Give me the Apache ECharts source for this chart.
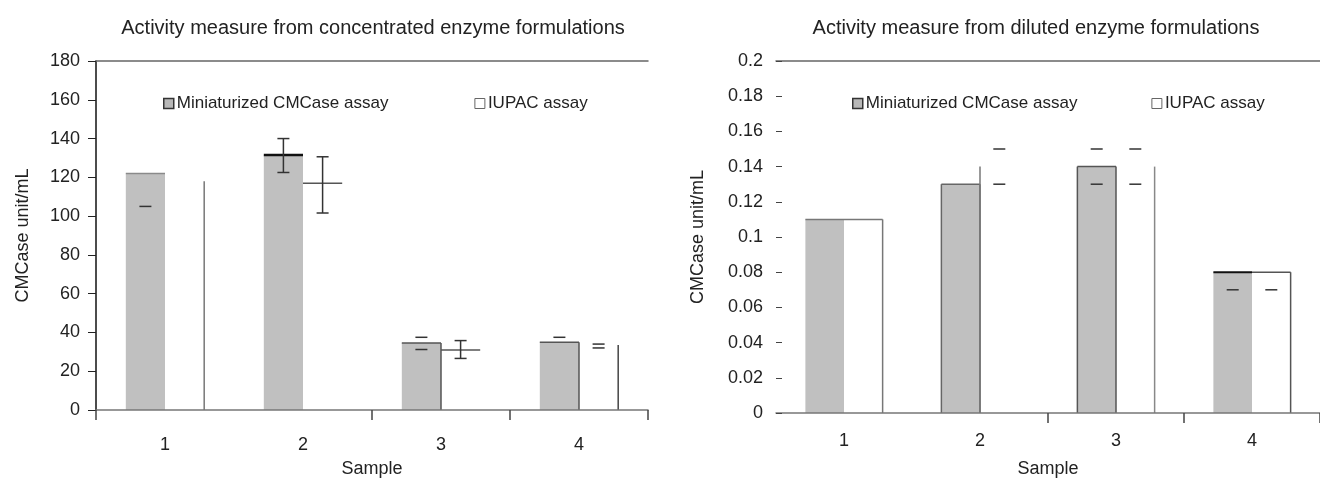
<!DOCTYPE html>
<html>
<head>
    <meta charset="utf-8">
    <title>CMCase activity</title>
    <script src="https://cdn.jsdelivr.net/npm/echarts@6/dist/echarts.min.js"></script>
    <style>html, body { margin: 0; background: #fff; }</style>
</head>
<body>
    <div id="main" style="width:1320px;height:483px;"></div>
    <script type="text/javascript">
        // sample numbers
        var samples = ['1', '2', '3', '4'];

        // concentrated enzyme formulations (left)
        var concMini = [122, 131.5, 34.5, 35];
        var concIupac = [118, 117, 31, 33.5];
        // error bar ends as far as they can be seen (null = not visible)
        var concMiniLow = [105, 122.5, 31.2, null];
        var concMiniHigh = [null, 140, 37.5, 37.5];
        var concIupacLow = [null, 101.6, 26.6, 32];
        var concIupacHigh = [null, 130.6, 35.8, 34];

        // diluted enzyme formulations (right)
        var dilMini = [0.11, 0.13, 0.14, 0.08];
        var dilIupac = [0.11, 0.14, 0.14, 0.08];
        var dilMiniLow = [null, null, 0.13, 0.07];
        var dilMiniHigh = [null, null, 0.15, null];
        var dilIupacLow = [null, 0.13, 0.13, 0.07];
        var dilIupacHigh = [null, 0.15, 0.15, null];

        var FONT = "'Liberation Sans', Arial, sans-serif";
        var TXT = '#222';
        var BAR_FRAC = 0.284;
        var GRAY = '#c0c0c0';

        // which bar outlines / error stems survive in the printed figure
        var look = {
            concMini:  { side: -1, edges: ['t', 't', 'tr', 'tr'], color: ['#8a8a8a', '#111', '#555', '#555'], width: [1.5, 2.5, 1.5, 1.5], stem: [0, 1, 0, 0] },
            concIupac: { side: 1, edges: ['r', 't', 't', 'r'], color: ['#777', '#555', '#555', '#444'], width: [1.5, 1.5, 1.5, 1.5], stem: [0, 1, 1, 0] },
            dilMini:   { side: -1, edges: ['t', 'ltr', 'ltr', 't'], color: ['#777', '#666', '#555', '#111'], width: [1.5, 1.5, 1.5, 2], stem: [0, 0, 0, 0] },
            dilIupac:  { side: 1, edges: ['tr', 'l', 'r', 'tr'], color: ['#777', '#777', '#888', '#555'], width: [1.5, 1.5, 1.5, 1.5], stem: [0, 0, 0, 0] }
        };

        function outline(key, vals, lows, highs) {
            var lk = look[key];
            return function (params, api) {
                var i = params.dataIndex;
                var top = api.coord([i, vals[i]]);
                var base = api.coord([i, 0]);
                var band = api.size([1, 0])[0];
                var w = band * BAR_FRAC;
                var x0 = lk.side < 0 ? top[0] - w : top[0];
                var x1 = x0 + w;
                var xm = (x0 + x1) / 2;
                var st = { stroke: lk.color[i], lineWidth: lk.width[i] };
                var kids = [];
                var e = lk.edges[i];
                if (e.indexOf('t') >= 0) kids.push({ type: 'line', shape: { x1: x0, y1: top[1], x2: x1, y2: top[1] }, style: st });
                if (e.indexOf('l') >= 0) kids.push({ type: 'line', shape: { x1: x0, y1: top[1], x2: x0, y2: base[1] }, style: st });
                if (e.indexOf('r') >= 0) kids.push({ type: 'line', shape: { x1: x1, y1: top[1], x2: x1, y2: base[1] }, style: st });
                var es = { stroke: '#333', lineWidth: 1.5 };
                var cap = 6;
                var yl = lows[i] == null ? null : api.coord([i, lows[i]])[1];
                var yh = highs[i] == null ? null : api.coord([i, highs[i]])[1];
                if (yl != null) kids.push({ type: 'line', shape: { x1: xm - cap, y1: yl, x2: xm + cap, y2: yl }, style: es });
                if (yh != null) kids.push({ type: 'line', shape: { x1: xm - cap, y1: yh, x2: xm + cap, y2: yh }, style: es });
                if (lk.stem[i] && yl != null && yh != null) kids.push({ type: 'line', shape: { x1: xm, y1: yl, x2: xm, y2: yh }, style: es });
                return { type: 'group', children: kids };
            };
        }

        function legendFor(left, gap) {
            return {
                left: left, top: 90, itemWidth: 10, itemHeight: 10, itemGap: gap, icon: 'rect',
                selectedMode: false,
                textStyle: { fontSize: 17, color: TXT, fontFamily: FONT, padding: [0, 0, 0, -2] },
                data: [
                    { name: 'Miniaturized CMCase assay', itemStyle: { color: '#b8b8b8', borderColor: '#333', borderWidth: 1.5 } },
                    { name: 'IUPAC assay', itemStyle: { color: '#fff', borderColor: '#666', borderWidth: 1 } }
                ]
            };
        }

        function bottomAxis(grid, tickIdx, labelMargin, nameGap) {
            return {
                type: 'category', gridIndex: grid, data: samples, position: 'bottom', z: 10,
                axisLine: { lineStyle: { color: '#777', width: 1.5 } },
                axisTick: { show: true, length: 10, lineStyle: { color: '#444', width: 1.5 },
                    interval: function (idx) { return tickIdx.indexOf(idx) >= 0; } },
                axisLabel: { margin: labelMargin, fontSize: 18, color: TXT, fontFamily: FONT },
                name: 'Sample', nameLocation: 'middle', nameGap: nameGap,
                nameTextStyle: { fontSize: 18, color: TXT, fontFamily: FONT }
            };
        }

        function topAxis(grid) {
            return {
                type: 'category', gridIndex: grid, data: samples, position: 'top', z: 10,
                axisLine: { lineStyle: { color: '#666', width: 1.5 } },
                axisTick: { show: false }, axisLabel: { show: false }
            };
        }

        var myChart = echarts.init(document.getElementById('main'));

        var option = {
            animation: false,
            backgroundColor: '#fff',
            title: [
                { text: 'Activity measure from concentrated enzyme formulations', left: 368, top: 13, textAlign: 'center',
                  textStyle: { fontSize: 20, fontWeight: 'normal', color: TXT, fontFamily: FONT } },
                { text: 'Activity measure from diluted enzyme formulations', left: 1031, top: 13, textAlign: 'center',
                  textStyle: { fontSize: 20, fontWeight: 'normal', color: TXT, fontFamily: FONT } }
            ],
            legend: [legendFor(158, 86), legendFor(847, 74)],
            grid: [
                { left: 96, top: 61, width: 552, height: 352 },
                { left: 776, top: 61, width: 554, height: 358 }
            ],
            xAxis: [
                bottomAxis(0, [0, 2, 3], 26, 50),
                bottomAxis(1, [2, 3], 19, 47),
                topAxis(0),
                topAxis(1)
            ],
            yAxis: [
                {
                    type: 'value', gridIndex: 0, min: 0, max: 180, interval: 20, z: 10,
                    axisLine: { show: true, lineStyle: { color: '#111', width: 1.5 } },
                    axisTick: { show: true, length: 8, lineStyle: { color: '#222' } },
                    splitLine: { show: false },
                    axisLabel: { margin: 16, fontSize: 18, color: TXT, fontFamily: FONT },
                    name: 'CMCase unit/mL', nameLocation: 'middle', nameGap: 64,
                    nameTextStyle: { fontSize: 18, color: TXT, fontFamily: FONT }
                },
                {
                    type: 'value', gridIndex: 1, min: 0, max: 0.2, interval: 0.02, z: 10,
                    axisLine: { show: false },
                    axisTick: { show: true, inside: true, length: 6, lineStyle: { color: '#444' } },
                    splitLine: { show: false },
                    axisLabel: { margin: 13, fontSize: 18, color: TXT, fontFamily: FONT },
                    name: 'CMCase unit/mL', nameLocation: 'middle', nameGap: 69,
                    nameTextStyle: { fontSize: 18, color: TXT, fontFamily: FONT }
                }
            ],
            series: [
                { name: 'Miniaturized CMCase assay', type: 'bar', xAxisIndex: 0, yAxisIndex: 0, data: concMini, z: 2,
                  barWidth: (BAR_FRAC * 100) + '%', barGap: '0%', itemStyle: { color: GRAY } },
                { name: 'IUPAC assay', type: 'bar', xAxisIndex: 0, yAxisIndex: 0, data: concIupac, z: 2,
                  barWidth: (BAR_FRAC * 100) + '%', barGap: '0%', itemStyle: { color: '#fff' } },
                { name: 'Miniaturized CMCase assay', type: 'bar', xAxisIndex: 1, yAxisIndex: 1, data: dilMini, z: 2,
                  barWidth: (BAR_FRAC * 100) + '%', barGap: '0%', itemStyle: { color: GRAY } },
                { name: 'IUPAC assay', type: 'bar', xAxisIndex: 1, yAxisIndex: 1, data: dilIupac, z: 2,
                  barWidth: (BAR_FRAC * 100) + '%', barGap: '0%', itemStyle: { color: '#fff' } },
                { type: 'custom', xAxisIndex: 0, yAxisIndex: 0, z: 5, data: concMini,
                  renderItem: outline('concMini', concMini, concMiniLow, concMiniHigh) },
                { type: 'custom', xAxisIndex: 0, yAxisIndex: 0, z: 5, data: concIupac,
                  renderItem: outline('concIupac', concIupac, concIupacLow, concIupacHigh) },
                { type: 'custom', xAxisIndex: 1, yAxisIndex: 1, z: 5, data: dilMini,
                  renderItem: outline('dilMini', dilMini, dilMiniLow, dilMiniHigh) },
                { type: 'custom', xAxisIndex: 1, yAxisIndex: 1, z: 5, data: dilIupac,
                  renderItem: outline('dilIupac', dilIupac, dilIupacLow, dilIupacHigh) }
            ]
        };

        myChart.setOption(option);
    </script>
</body>
</html>
